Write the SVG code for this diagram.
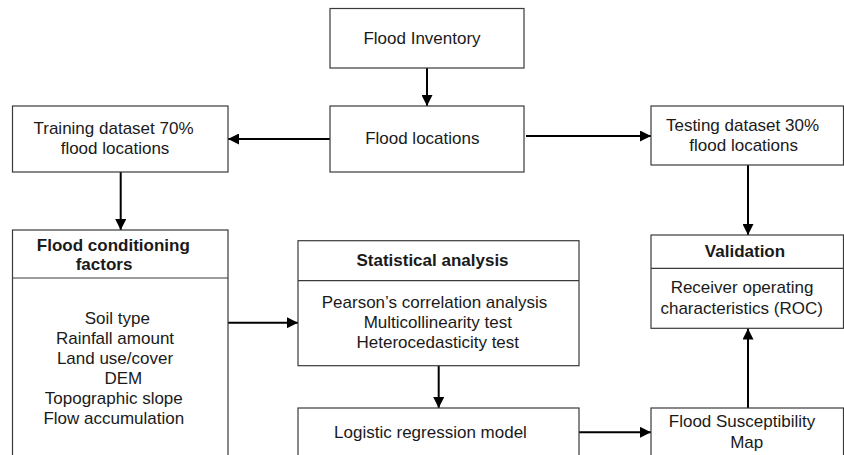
<svg xmlns="http://www.w3.org/2000/svg" width="844" height="455" viewBox="0 0 844 455">
<defs>
<style>
.box{fill:#fff;stroke:#3a3a3a;stroke-width:1.2}
.t{font-family:"Liberation Sans",Arial,sans-serif;font-size:17px;fill:#1a1a1a;text-anchor:middle}
.b{font-weight:bold}
.c{stroke:#000;stroke-width:2;fill:none;marker-end:url(#ah)}
</style>
<marker id="ah" markerUnits="userSpaceOnUse" markerWidth="12" markerHeight="11" refX="11" refY="5.5" orient="auto">
<path d="M0,0 L11,5.5 L0,11 z" fill="#000"/>
</marker>
</defs>
<rect width="844" height="455" fill="#fff"/>
<g id="connectors">
<line class="c" x1="427" y1="68" x2="427" y2="106"/>
<line class="c" x1="330" y1="139" x2="228" y2="139"/>
<line class="c" x1="526" y1="136" x2="651" y2="136"/>
<line class="c" x1="120.7" y1="172" x2="120.7" y2="230"/>
<line class="c" x1="748" y1="165" x2="748" y2="235"/>
<line class="c" x1="228" y1="322.7" x2="298" y2="322.7"/>
<line class="c" x1="438.7" y1="366" x2="438.7" y2="408"/>
<line class="c" x1="579" y1="432.3" x2="651" y2="432.3"/>
<line class="c" x1="748" y1="408" x2="748" y2="328.5"/>
</g>
<g id="flood-inventory">
<rect class="box" x="330" y="8.5" width="194" height="59.5"/>
<text class="t" x="422" y="44">Flood Inventory</text>
</g>
<g id="flood-locations">
<rect class="box" x="330" y="106" width="194" height="66"/>
<text class="t" x="422.3" y="144.3">Flood locations</text>
</g>
<g id="training">
<rect class="box" x="12.5" y="106" width="215.5" height="66"/>
<text class="t" x="113.5" y="134">Training dataset 70%</text>
<text class="t" x="115" y="154">flood locations</text>
</g>
<g id="testing">
<rect class="box" x="651" y="106" width="192.5" height="59"/>
<text class="t" x="742.5" y="130.7">Testing dataset 30%</text>
<text class="t" x="743.7" y="150.7">flood locations</text>
</g>
<g id="factors">
<rect class="box" x="12.5" y="230" width="215.5" height="240"/>
<line x1="12.5" y1="278" x2="228" y2="278" stroke="#3a3a3a" stroke-width="1.2"/>
<text class="t b" x="113.3" y="251">Flood conditioning</text>
<text class="t b" x="104" y="270">factors</text>
<text class="t" x="117.3" y="324">Soil type</text>
<text class="t" x="115" y="344">Rainfall amount</text>
<text class="t" x="115" y="364">Land use/cover</text>
<text class="t" x="123.3" y="384">DEM</text>
<text class="t" x="113.8" y="404">Topographic slope</text>
<text class="t" x="113.8" y="424">Flow accumulation</text>
</g>
<g id="statistical">
<rect class="box" x="298" y="240.7" width="281" height="125"/>
<line x1="298" y1="280.7" x2="579" y2="280.7" stroke="#3a3a3a" stroke-width="1.2"/>
<text class="t b" x="432.5" y="265.7">Statistical analysis</text>
<text class="t" x="434.5" y="308.3">Pearson’s correlation analysis</text>
<text class="t" x="437.8" y="328.3">Multicollinearity test</text>
<text class="t" x="437.8" y="348.3">Heterocedasticity test</text>
</g>
<g id="logistic">
<rect class="box" x="298" y="408" width="281" height="60"/>
<text class="t" x="430.5" y="438.3">Logistic regression model</text>
</g>
<g id="validation">
<rect class="box" x="651" y="235" width="192.5" height="93.3"/>
<line x1="651" y1="268.3" x2="843.5" y2="268.3" stroke="#3a3a3a" stroke-width="1.2"/>
<text class="t b" x="745" y="257.3">Validation</text>
<text class="t" x="742" y="293.3">Receiver operating</text>
<text class="t" x="741.7" y="313.5">characteristics (ROC)</text>
</g>
<g id="susceptibility">
<rect class="box" x="651" y="408" width="192.5" height="60"/>
<text class="t" x="742" y="427.3">Flood Susceptibility</text>
<text class="t" x="746.7" y="447.7">Map</text>
</g>
</svg>
